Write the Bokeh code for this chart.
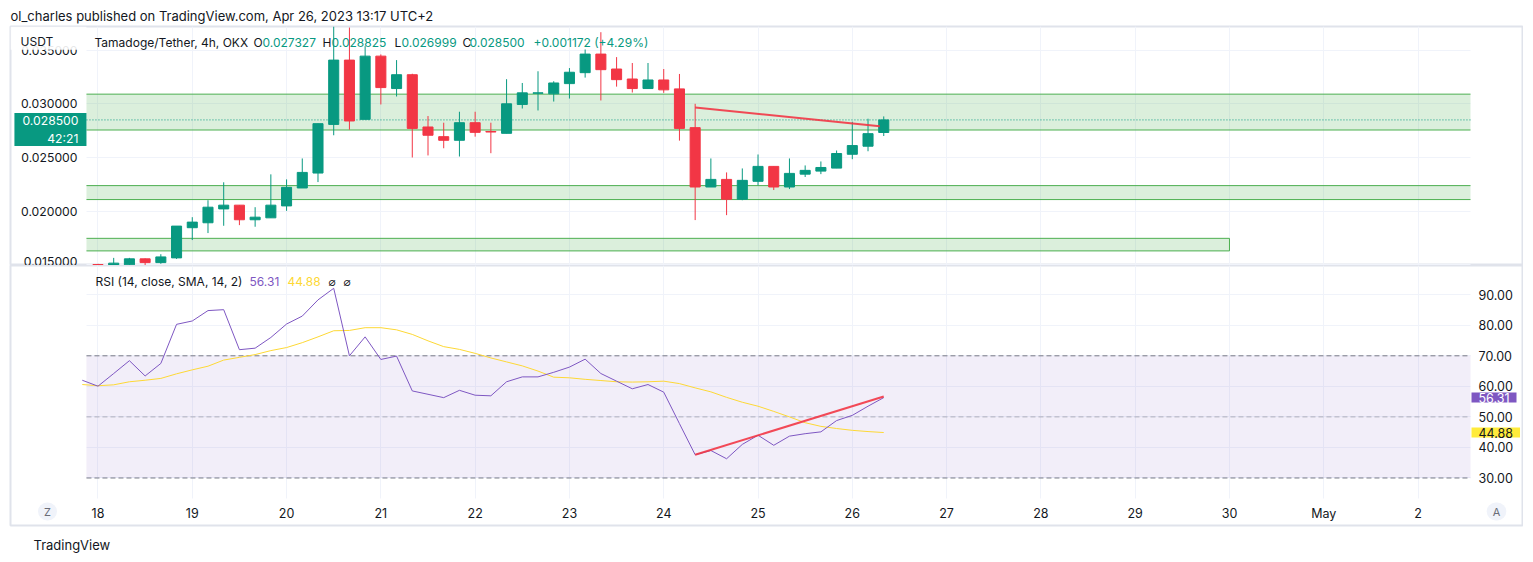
import pandas as pd
from bokeh.plotting import figure
from bokeh.models import (Range1d, FixedTicker, Label, BoxAnnotation, Grid, LinearAxis,
                          ColumnDataSource, PrintfTickFormatter)
from bokeh.layouts import column
from bokeh.embed import file_html
from bokeh.resources import INLINE

FONT = "Inter"
TXT = "#131722"
GREEN = "#089981"
RED = "#f23645"
PURPLE = "#7e57c2"
YELLOW = "#fdd835"
GRID = "#f0f3fa"
BORDER = "#e0e3eb"

# ---------------- data ----------------
candle_start = "2023-04-18 00:00"
opens = [0.01503, 0.01498, 0.01500, 0.01556, 0.01521, 0.01565, 0.01846, 0.01892, 0.02021, 0.02056,
         0.01920, 0.01938, 0.02049, 0.02216, 0.02355, 0.02808, 0.03407, 0.02855, 0.03444, 0.03142,
         0.03271, 0.02784, 0.02694, 0.02660, 0.02824, 0.02742, 0.02725, 0.02994, 0.03098, 0.03093,
         0.03188, 0.03290, 0.03463, 0.03324, 0.03231, 0.03142, 0.03222, 0.03139, 0.02778, 0.02225,
         0.02296, 0.02111, 0.02278, 0.02417, 0.02225, 0.02345, 0.02373, 0.02401, 0.02530, 0.02605,
         0.027327]
highs = [0.01510, 0.01565, 0.01565, 0.01560, 0.01599, 0.01861, 0.01944, 0.02102, 0.02269, 0.02056,
         0.02037, 0.02343, 0.02296, 0.02491, 0.02815, 0.03720, 0.03710, 0.03537, 0.03460, 0.03407,
         0.03280, 0.02886, 0.02824, 0.02926, 0.02926, 0.02824, 0.03229, 0.03194, 0.03303, 0.03210,
         0.03333, 0.03506, 0.03667, 0.03435, 0.03380, 0.03380, 0.03324, 0.03278, 0.03000, 0.02491,
         0.02361, 0.02398, 0.02528, 0.02417, 0.02491, 0.02426, 0.02463, 0.02565, 0.02833, 0.02861,
         0.028825]
lows = [0.01490, 0.01495, 0.01497, 0.01497, 0.01510, 0.01555, 0.01731, 0.01796, 0.01864, 0.01870,
        0.01855, 0.01938, 0.02003, 0.02216, 0.02271, 0.02707, 0.02759, 0.02855, 0.02994, 0.03068,
        0.02500, 0.02519, 0.02586, 0.02509, 0.02694, 0.02540, 0.02725, 0.02956, 0.02938, 0.03021,
        0.03049, 0.03244, 0.03031, 0.03160, 0.03105, 0.03142, 0.03102, 0.02657, 0.01917, 0.02225,
        0.01963, 0.02102, 0.02241, 0.02197, 0.02206, 0.02318, 0.02345, 0.02401, 0.02484, 0.02558,
        0.026999]
closes = [0.01494, 0.01516, 0.01556, 0.01521, 0.01574, 0.01861, 0.01898, 0.02037, 0.02056, 0.01920,
          0.01944, 0.02056, 0.02222, 0.02361, 0.02815, 0.03407, 0.02840, 0.03444, 0.03151, 0.03271,
          0.02771, 0.02707, 0.02660, 0.02824, 0.02734, 0.02737, 0.03000, 0.03102, 0.03102, 0.03194,
          0.03294, 0.03463, 0.03318, 0.03225, 0.03142, 0.03222, 0.03130, 0.02771, 0.02225, 0.02296,
          0.02111, 0.02287, 0.02417, 0.02225, 0.02352, 0.02380, 0.02407, 0.02537, 0.02611, 0.02722,
          0.028500]
symbol_text = "Tamadoge/Tether, 4h, OKX"
quote_unit = "USDT"
change_text = "+0.001172 (+4.29%)"
countdown = "42:21"
header_text = "ol_charles published on TradingView.com, Apr 26, 2023 13:17 UTC+2"
footer_text = "TradingView"

rsi_start = "2023-04-17 20:00"
rsi_vals = [62.0, 60.05, 64.2, 68.4, 63.4, 67.5, 80.3, 81.4, 84.8, 85.1, 72.0, 72.5, 76.0, 80.4,
            83.0, 88.3, 92.1, 70.0, 76.2, 68.8, 69.9, 58.5, 57.4, 56.3, 58.7, 57.1, 56.9, 61.5,
            63.1, 63.1, 64.6, 66.3, 68.9, 64.2, 61.7, 59.2, 60.6, 58.1, 47.8, 37.6, 39.0, 36.3,
            41.0, 44.0, 40.7, 43.7, 44.5, 45.1, 48.8, 50.5, 53.5, 56.31]
rsi_sma = [60.6, 60.2, 60.5, 61.5, 62.0, 62.6, 64.1, 65.4, 66.6, 68.6, 69.5, 70.4, 71.7, 72.7,
           74.3, 76.2, 78.2, 78.3, 79.2, 79.2, 78.5, 77.0, 74.9, 73.0, 72.1, 70.8, 69.3, 68.0,
           66.7, 65.0, 63.0, 62.8, 62.3, 61.9, 61.5, 61.4, 61.5, 61.7, 60.9, 59.5, 58.2, 56.4,
           54.8, 53.5, 51.8, 50.0, 48.1, 46.9, 46.2, 45.6, 45.2, 44.88]
rsi_title = "RSI (14, close, SMA, 14, 2)"
rsi_levels = [70, 50, 30]

# visible window of the chart panes
pane_start = "2023-04-17 21:04"
pane_end = "2023-05-02 13:21"
view = ["2023-04-17 01:44", "2023-05-03 02:35"]   # incl. the scale areas
price_view = [0.01494, 0.0372]
rsi_view = [14.45, 99.56]
rsi_pane_bottom = 23.29

# support / resistance zones
zone_bottom = [0.02756, 0.02108, 0.01630]
zone_top = [0.03090, 0.02238, 0.01747]
zone_start = [pane_start, pane_start, pane_start]
zone_end = [pane_end, pane_end, "2023-04-30 00:00"]
zone_closed_right = [False, False, True]

# trend lines
price_trend_t = ["2023-04-24 08:00", "2023-04-26 07:00"]
price_trend_v = [0.02966, 0.02790]
rsi_trend_t = ["2023-04-24 08:00", "2023-04-26 08:00"]
rsi_trend_v = [37.6, 56.7]

day_dates = ["2023-04-18", "2023-04-19", "2023-04-20", "2023-04-21", "2023-04-22", "2023-04-23",
             "2023-04-24", "2023-04-25", "2023-04-26", "2023-04-27", "2023-04-28", "2023-04-29",
             "2023-04-30", "2023-05-01", "2023-05-02"]
day_labels = ["18", "19", "20", "21", "22", "23", "24", "25", "26", "27", "28", "29", "30", "May", "2"]
price_ticks = [0.015, 0.020, 0.025, 0.030, 0.035]
rsi_ticks = [30, 40, 50, 60, 70, 80, 90]


def ms(t):
    return int(pd.Timestamp(t).value // 10**6)


H4 = 4 * 3600 * 1000
ctimes = [ms(t) for t in pd.date_range(candle_start, periods=len(opens), freq="4h")]
rtimes = [ms(t) for t in pd.date_range(rsi_start, periods=len(rsi_vals), freq="4h")]
day_ms = [ms(d) for d in day_dates]
PS, PE = ms(pane_start), ms(pane_end)

HAS_CB = "cross_bounds" in Grid.properties()


def add_grid(fig, dim, axis, cb):
    kw = dict(dimension=dim, axis=axis, grid_line_color=GRID, level="underlay")
    if HAS_CB:
        kw["cross_bounds"] = cb
    fig.add_layout(Grid(**kw))


def style_axis(ax, standoff, size="12.5px"):
    ax.axis_line_color = None
    ax.major_tick_line_color = None
    ax.minor_tick_line_color = None
    ax.major_tick_out = 0
    ax.major_tick_in = 0
    ax.minor_tick_out = 0
    ax.minor_tick_in = 0
    ax.major_label_standoff = standoff
    ax.major_label_text_font = FONT
    ax.major_label_text_font_size = size
    ax.major_label_text_color = TXT


def lab(px, py, text, frame_bottom, color=TXT, size="12px", font=FONT, **kw):
    return Label(x=px - 10, y=frame_bottom - py, x_units="screen", y_units="screen",
                 text=text, text_color=color, text_font_size=size, text_font=font,
                 text_baseline="middle", **kw)


W = 1523
common = dict(output_backend="svg", toolbar_location=None, x_axis_type=None,
              y_axis_type=None, min_border_left=10, min_border_right=1)

# ---------------- price pane ----------------
p1 = figure(width=W, height=265, x_range=Range1d(ms(view[0]), ms(view[1])),
            y_range=Range1d(*price_view), min_border_top=26, min_border_bottom=0, **common)
p1.outline_line_color = BORDER
p1.outline_line_width = 2
p1.title.text = header_text
p1.title.align = "left"
p1.title.standoff = 6
p1.title.text_font = FONT
p1.title.text_font_size = "13px"
p1.title.text_font_style = "normal"
p1.title.text_color = TXT

ya = LinearAxis(ticker=FixedTicker(ticks=price_ticks), formatter=PrintfTickFormatter(format="%.6f"),
                fixed_location=PS)
style_axis(ya, 9, "12.2px")
p1.add_layout(ya, "left")
xh = LinearAxis(ticker=FixedTicker(ticks=day_ms), fixed_location=price_view[0], visible=False)
p1.add_layout(xh, "below")
add_grid(p1, 1, ya, (PS, PE))
add_grid(p1, 0, xh, tuple(price_view))
if not HAS_CB:
    p1.add_layout(BoxAnnotation(right=PS, fill_color="white", fill_alpha=1, line_color=None, level="underlay"))
    p1.add_layout(BoxAnnotation(left=PE, fill_color="white", fill_alpha=1, line_color=None, level="underlay"))

zsrc = ColumnDataSource(dict(left=[ms(t) for t in zone_start], right=[ms(t) for t in zone_end],
                             top=zone_top, bottom=zone_bottom))
p1.quad(left="left", right="right", top="top", bottom="bottom", source=zsrc,
        fill_color="#4caf50", fill_alpha=0.2, line_color=None)
ex0, ex1, ey0, ey1 = [], [], [], []
for s, e, b, t, cr in zip(zone_start, zone_end, zone_bottom, zone_top, zone_closed_right):
    for lv in (b, t):
        ex0.append(ms(s)); ex1.append(ms(e)); ey0.append(lv); ey1.append(lv)
    if cr:
        ex0.append(ms(e)); ex1.append(ms(e)); ey0.append(b); ey1.append(t)
p1.segment(x0=ex0, y0=ey0, x1=ex1, y1=ey1, line_color="#4caf50", line_width=1)

p1.segment(x0=[PS], y0=[closes[-1]], x1=[PE], y1=[closes[-1]], line_color=GREEN,
           line_dash="1 2", line_width=1)

colors = [GREEN if c >= o else RED for o, c in zip(opens, closes)]
csrc = ColumnDataSource(dict(x=ctimes, o=opens, h=highs, l=lows, c=closes,
                             top=[max(o, c) for o, c in zip(opens, closes)],
                             bot=[min(o, c) for o, c in zip(opens, closes)],
                             color=colors))
p1.segment(x0="x", y0="l", x1="x", y1="h", line_color="color", line_width=1, source=csrc)
p1.vbar(x="x", width=0.64 * H4, top="top", bottom="bot", fill_color="color",
        line_color="color", line_width=1, source=csrc)

p1.line([ms(t) for t in price_trend_t], price_trend_v, line_color=RED, line_width=2, alpha=0.9)

# the header row of the scale hides the top half of the 0.035 label, like the original
p1.add_layout(BoxAnnotation(right=PS, bottom=0.03503, fill_color="white", fill_alpha=0.9,
                            line_color=None))
p1.add_layout(lab(20, 41, quote_unit, 265, size="12px"))
legend1 = [(symbol_text, 94, TXT), ("O", 253, TXT), (f"{opens[-1]:.6f}", 262, GREEN),
           ("H", 322, TXT), (f"{highs[-1]:.6f}", 331, GREEN), ("L", 394, TXT),
           (f"{lows[-1]:.6f}", 401, GREEN), ("C", 462, TXT), (f"{closes[-1]:.6f}", 469, GREEN),
           (change_text, 533, GREEN)]
for t, x, c in legend1:
    p1.add_layout(lab(x, 42, t, 265, color=c, size="12px"))

p1.add_layout(Label(x=PS, y=closes[-1], text=f"{closes[-1]:.6f}\n{countdown}",
                    text_align="right", text_baseline="top", y_offset=7, text_color="white",
                    text_font=FONT, text_font_size="12.2px", background_fill_color=GREEN,
                    padding=(8, 0)))

# ---------------- RSI pane ----------------
p2 = figure(width=W, height=296, x_range=p1.x_range, y_range=Range1d(*rsi_view),
            min_border_top=0, min_border_bottom=36, **common)
p2.outline_line_color = BORDER
p2.outline_line_width = 2
p2.title_location = "below"
p2.title.text = footer_text
p2.title.align = "left"
p2.title.offset = 23
p2.title.standoff = 18
p2.title.text_font = FONT
p2.title.text_font_size = "13px"
p2.title.text_font_style = "normal"
p2.title.text_color = TXT

ra = LinearAxis(ticker=FixedTicker(ticks=rsi_ticks), formatter=PrintfTickFormatter(format="%.2f"),
                fixed_location=PE)
style_axis(ra, 8)
p2.add_layout(ra, "right")
xa = LinearAxis(ticker=FixedTicker(ticks=day_ms), fixed_location=rsi_pane_bottom)
xa.major_label_overrides = {d: l for d, l in zip(day_ms, day_labels)}
style_axis(xa, 8)
p2.add_layout(xa, "below")
add_grid(p2, 1, ra, (PS, PE))
add_grid(p2, 0, xa, (rsi_pane_bottom, rsi_view[1]))
if not HAS_CB:
    p2.add_layout(BoxAnnotation(right=PS, fill_color="white", fill_alpha=1, line_color=None, level="underlay"))
    p2.add_layout(BoxAnnotation(left=PE, fill_color="white", fill_alpha=1, line_color=None, level="underlay"))
    p2.add_layout(BoxAnnotation(top=rsi_pane_bottom, fill_color="white", fill_alpha=1, line_color=None, level="underlay"))

p2.add_layout(BoxAnnotation(left=PS, right=PE, bottom=rsi_levels[2], top=rsi_levels[0],
                            fill_color=PURPLE, fill_alpha=0.1, line_color=None, level="underlay"))
for lv, a in zip(rsi_levels, [1.0, 0.5, 1.0]):
    p2.segment(x0=[PS], y0=[lv], x1=[PE], y1=[lv], line_color="#787b86", line_alpha=a,
               line_dash="5 3", line_width=1)

p2.line(rtimes, rsi_sma, line_color=YELLOW, line_width=1)
p2.line(rtimes, rsi_vals, line_color=PURPLE, line_width=1)
p2.line([ms(t) for t in rsi_trend_t], rsi_trend_v, line_color=RED, line_width=2, alpha=0.9)

legend2 = [(rsi_title, 95, TXT, FONT), (f"{rsi_vals[-1]:.2f}", 249, PURPLE, FONT),
           (f"{rsi_sma[-1]:.2f}", 287, YELLOW, FONT), ("⌀", 328, TXT, "DejaVu Sans"),
           ("⌀", 343, TXT, "DejaVu Sans")]
for t, x, c, f in legend2:
    p2.add_layout(lab(x, 283, t, 527, color=c, size="12px", font=f))

p2.add_layout(Label(x=PE, y=rsi_vals[-1], text=f"{rsi_vals[-1]:.2f}", text_align="left",
                    text_baseline="middle", x_offset=1, text_color="white", text_font=FONT,
                    text_font_size="12.5px", background_fill_color=PURPLE, padding=(7, 0)))
p2.add_layout(Label(x=PE, y=rsi_sma[-1], text=f"{rsi_sma[-1]:.2f}", text_align="left",
                    text_baseline="middle", x_offset=1, text_color=TXT, text_font=FONT,
                    text_font_size="12.5px", background_fill_color="#ffeb3b", padding=(7, 0)))

for x, t in [(47, "Z"), (1496, "A")]:
    p2.add_layout(lab(x, 513, t, 527, color="#6a6d78", size="11px", text_align="center",
                      background_fill_color="#f0f3fa", padding=(6, 2), border_radius=9))

layout = column(p1, p2, spacing=0)
open("out.html", "w").write(file_html(layout, INLINE))
